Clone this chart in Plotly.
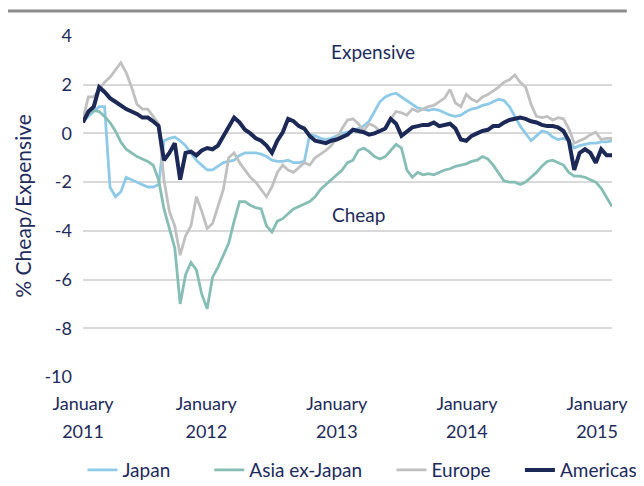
import pandas as pd
import plotly.graph_objects as go

# evenly spaced (~semi-monthly) observation dates, 20 Jan 2011 - 12 Feb 2015
dates = pd.date_range("2011-01-20", "2015-02-12", periods=99)

japan = [
    0.5, 0.7, 0.9, 1.1, 1.1, -2.2, -2.6, -2.4, -1.8, -1.9,
    -2.0, -2.1, -2.2, -2.2, -2.1, -0.3, -0.2, -0.15, -0.3, -0.5,
    -0.8, -1.1, -1.3, -1.5, -1.5, -1.35, -1.2, -1.15, -1.1, -0.9,
    -0.8, -0.8, -0.8, -0.85, -0.95, -1.1, -1.15, -1.15, -1.1, -1.2,
    -1.2, -1.15, -0.05, -0.1, -0.2, -0.25, -0.2, -0.1, 0.0, 0.05,
    0.1, 0.2, 0.3, 0.5, 0.9, 1.3, 1.5, 1.6, 1.65, 1.5,
    1.35, 1.2, 1.05, 1.0, 0.95, 1.0, 0.95, 0.85, 0.75, 0.7,
    0.75, 0.9, 1.0, 1.05, 1.15, 1.2, 1.3, 1.4, 1.35, 1.1,
    0.7, 0.3, 0.0, -0.3, -0.1, 0.1, 0.05, -0.15, -0.25, -0.2,
    -0.3, -0.6, -0.5, -0.45, -0.4, -0.4, -0.35, -0.35, -0.3,
]

asia_ex_japan = [
    0.5, 0.8, 0.95, 0.9, 0.7, 0.45, 0.1, -0.35, -0.65, -0.8,
    -0.95, -1.05, -1.15, -1.3, -1.9, -3.1, -3.9, -4.7, -7.0, -5.8,
    -5.3, -5.6, -6.6, -7.2, -5.9, -5.5, -5.0, -4.5, -3.6, -2.8,
    -2.8, -2.95, -3.05, -3.1, -3.8, -4.05, -3.6, -3.5, -3.3, -3.1,
    -3.0, -2.9, -2.8, -2.6, -2.3, -2.1, -1.9, -1.7, -1.5, -1.2,
    -1.1, -0.7, -0.6, -0.75, -0.95, -1.05, -0.95, -0.7, -0.45, -0.6,
    -1.5, -1.8, -1.6, -1.7, -1.65, -1.7, -1.6, -1.5, -1.45, -1.35,
    -1.3, -1.25, -1.15, -1.1, -0.95, -1.05, -1.3, -1.6, -1.95, -2.0,
    -2.0, -2.1, -2.0, -1.8, -1.6, -1.35, -1.15, -1.1, -1.2, -1.3,
    -1.6, -1.75, -1.75, -1.8, -1.9, -2.0, -2.25, -2.65, -3.0,
]

europe = [
    0.6, 1.5, 1.5, 1.8, 2.1, 2.3, 2.6, 2.9, 2.5, 1.9,
    1.2, 1.0, 1.0, 0.7, 0.4, -1.9, -3.2, -3.8, -5.0, -4.2,
    -3.8, -2.6, -3.2, -3.9, -3.7, -3.0, -2.3, -1.0, -0.8, -1.2,
    -1.5, -1.8, -2.0, -2.3, -2.6, -2.2, -1.6, -1.3, -1.5, -1.6,
    -1.4, -1.2, -1.3, -1.0, -0.85, -0.7, -0.5, -0.2, 0.2, 0.55,
    0.6, 0.4, 0.1, 0.4, 0.3, 0.1, 0.2, 0.6, 0.9, 0.85,
    0.75, 1.0, 0.9, 1.0, 1.1, 1.15, 1.3, 1.45, 1.8, 1.25,
    1.1, 1.6, 1.4, 1.3, 1.5, 1.6, 1.75, 1.9, 2.1, 2.2,
    2.4, 2.1, 1.9, 1.2, 0.7, 0.65, 0.7, 0.55, 0.65, 0.6,
    0.2, -0.4, -0.3, -0.2, -0.05, 0.05, -0.25, -0.2, -0.2,
]

americas = [
    0.45, 0.9, 1.1, 1.9, 1.7, 1.45, 1.3, 1.15, 1.0, 0.9,
    0.8, 0.65, 0.65, 0.5, 0.3, -1.1, -0.8, -0.4, -1.9, -0.8,
    -0.75, -0.9, -0.7, -0.6, -0.65, -0.5, -0.1, 0.3, 0.65, 0.45,
    0.15, 0.0, -0.2, -0.3, -0.5, -0.8, -0.3, 0.05, 0.6, 0.5,
    0.3, 0.2, -0.1, -0.3, -0.35, -0.4, -0.3, -0.25, -0.15, -0.05,
    0.15, 0.1, 0.05, -0.05, 0.0, 0.1, 0.2, 0.6, 0.4, -0.1,
    0.1, 0.25, 0.3, 0.35, 0.35, 0.45, 0.3, 0.35, 0.4, 0.2,
    -0.25, -0.3, -0.1, 0.0, 0.1, 0.15, 0.3, 0.3, 0.45, 0.55,
    0.6, 0.65, 0.6, 0.5, 0.45, 0.35, 0.3, 0.3, 0.25, 0.1,
    -0.3, -1.5, -0.8, -0.65, -0.8, -1.2, -0.65, -0.9, -0.9,
]

tick_dates = ["2011-01-20", "2012-01-01", "2013-01-01", "2014-01-01", "2015-01-01"]
tick_months = ["January"] * 5
tick_years = ["2011", "2012", "2013", "2014", "2015"]
y_ticks = [4, 2, 0, -2, -4, -6, -8, -10]
y_labels = ["4", "2", "0", "-2", "-4", "-6", "-8", "-10"]

NAVY = "#1d2a5b"
FONT = "Lato, 'Open Sans', sans-serif"
NB = "\u00a0"

# name, values, colour, width, trailing legend padding (non-breaking spaces)
series = [
    ("Japan", japan, "#8ecae8", 2.8, 7),
    ("Asia ex-Japan", asia_ex_japan, "#86bdb4", 2.8, 5),
    ("Europe", europe, "#c0c0c0", 2.8, 5),
    ("Americas", americas, "#1c2957", 4, 0),
]

fig = go.Figure()
for name, vals, color, w, pad in series:
    fig.add_trace(go.Scatter(x=dates, y=vals, mode="lines", name=name + NB * pad,
                             line=dict(color=color, width=w), hoverinfo="skip"))

# invisible companion trace so the second (year) label axis is drawn
fig.add_trace(go.Scatter(x=dates, y=americas, xaxis="x2", mode="lines",
                         opacity=0, showlegend=False, hoverinfo="skip",
                         line=dict(width=0)))

x_range = [dates[0], dates[-1]]

# the page adds an 8px body margin, so the figure is sized 8px smaller
fig.update_layout(
    width=636, height=478,
    margin=dict(l=75, r=32, t=28, b=109, autoexpand=False),
    plot_bgcolor="white", paper_bgcolor="white",
    font=dict(family=FONT, size=18, color=NAVY),
    showlegend=True,
    legend=dict(orientation="h", x=-0.001, xanchor="left", y=-0.273, yanchor="middle",
                font=dict(size=19, color=NAVY), itemwidth=30, tracegroupgap=0),
    xaxis=dict(range=x_range, tickvals=tick_dates,
               ticktext=tick_months, showgrid=False, showline=False, zeroline=False,
               ticks="", tickfont=dict(size=18, color=NAVY), ticklabelstandoff=14,
               automargin=False),
    xaxis2=dict(matches="x", overlaying="x", anchor="y", side="bottom",
                tickvals=tick_dates, ticktext=tick_years, showgrid=False,
                showline=False, zeroline=False, ticks="",
                tickfont=dict(size=18, color=NAVY), ticklabelstandoff=42,
                automargin=False),
    yaxis=dict(range=[-10, 4], tickvals=y_ticks, ticktext=y_labels, showgrid=True,
               gridcolor="#d9d9d9", gridwidth=1.5, zeroline=False, showline=False,
               ticks="", tickfont=dict(size=18, color=NAVY), ticklabelstandoff=10,
               automargin=False),
    annotations=[
        dict(text="Expensive", x=0.548, y=0.955, xref="paper", yref="paper",
             xanchor="center", yanchor="middle", showarrow=False,
             font=dict(size=19, color=NAVY)),
        dict(text="Cheap", x=0.52, y=0.478, xref="paper", yref="paper",
             xanchor="center", yanchor="middle", showarrow=False,
             font=dict(size=19, color=NAVY)),
        dict(text="% Cheap/Expensive", x=-0.115, y=0.5, xref="paper", yref="paper",
             xanchor="center", yanchor="middle", textangle=-90, showarrow=False,
             font=dict(size=21, color=NAVY)),
    ],
    shapes=[
        dict(type="line", xref="paper", yref="paper", x0=-0.142, x1=1.028,
             y0=1.073, y1=1.073, line=dict(color="#8c8c8c", width=3)),
    ],
)

fig.write_html("out.html")
